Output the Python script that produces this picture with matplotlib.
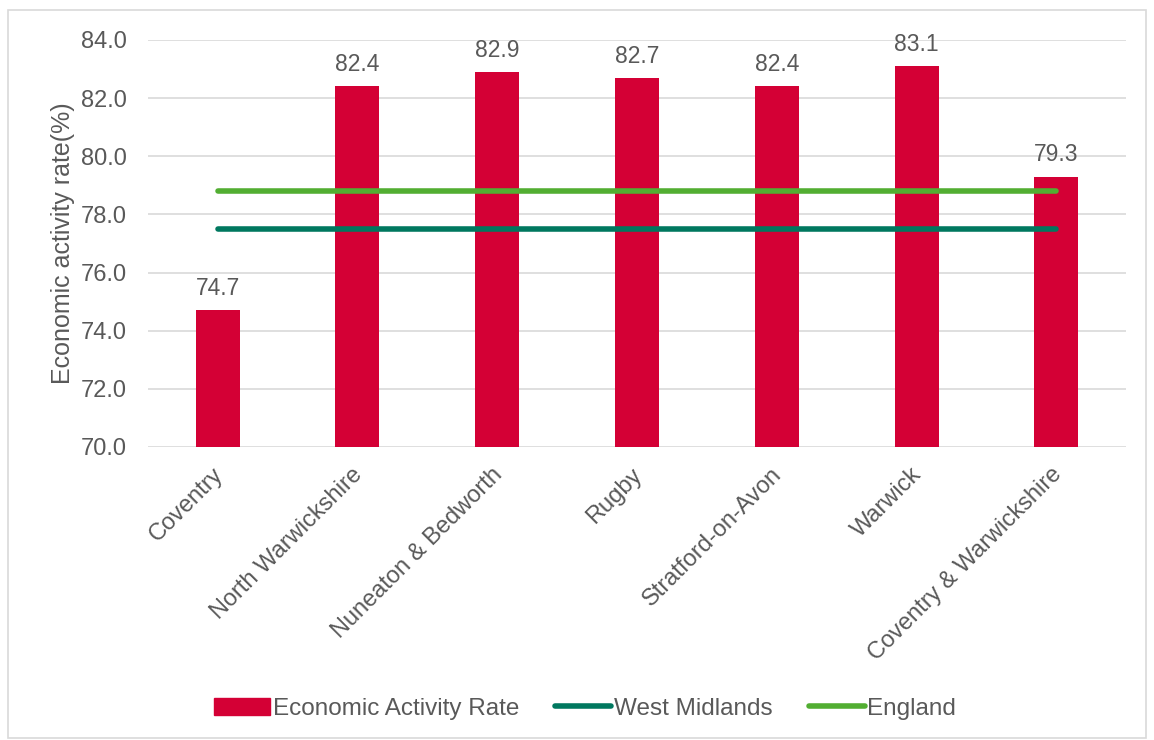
import matplotlib.pyplot as plt
import matplotlib.transforms as mtransforms
from matplotlib.patches import Rectangle
from matplotlib.lines import Line2D
import numpy as np

plt.rcParams['font.family'] = ['Liberation Sans', 'DejaVu Sans']

areas = ['Coventry', 'North Warwickshire', 'Nuneaton & Bedworth', 'Rugby',
         'Stratford-on-Avon', 'Warwick', 'Coventry & Warwickshire']
rates = [74.7, 82.4, 82.9, 82.7, 82.4, 83.1, 79.3]
west_midlands = 77.5
england = 78.8

bar_col = '#D40035'
wm_col = '#00785F'
eng_col = '#52AE32'
txt = '#595959'

fig = plt.figure(figsize=(11.54, 7.4), dpi=100)
ax = fig.add_axes([0.128, 0.396, 0.848, 0.55])

x = np.arange(len(areas))
ax.bar(x, rates, width=0.315, color=bar_col, zorder=2, bottom=0)
ax.plot(x, [west_midlands] * len(x), color=wm_col, lw=4, solid_capstyle='round', zorder=3)
ax.plot(x, [england] * len(x), color=eng_col, lw=4, solid_capstyle='round', zorder=3)

for xi, v in zip(x, rates):
    ax.text(xi, v + 0.35, f'{v:.1f}', ha='center', va='bottom', fontsize=16.5, color=txt)

ax.set_ylim(70, 84)
ax.set_xlim(-0.5, len(areas) - 0.5)
ax.set_yticks(np.arange(70, 84.1, 2))
ax.set_yticklabels([f'{t:.1f}' for t in np.arange(70, 84.1, 2)])
ax.set_xticks(x)
ax.set_xticklabels(areas, rotation=45, ha='right', rotation_mode='anchor')
ax.tick_params(axis='both', length=0, labelsize=17, labelcolor=txt)
ax.tick_params(axis='y', pad=15)
ax.tick_params(axis='x', pad=12)
shift = mtransforms.ScaledTranslation(-0.06, 0, fig.dpi_scale_trans)
for lab in ax.get_xticklabels():
    lab.set_transform(lab.get_transform() + shift)
ax.grid(axis='y', color='#D9D9D9', lw=1.2, zorder=0)
for s in ax.spines.values():
    s.set_visible(False)
ax.set_ylabel('Economic activity rate(%)', fontsize=18, color=txt, labelpad=4)

handles = [Rectangle((0, 0), 1, 1, color=bar_col),
           Line2D([], [], color=wm_col, lw=4, solid_capstyle='round'),
           Line2D([], [], color=eng_col, lw=4, solid_capstyle='round')]
leg = fig.legend(handles, ['Economic Activity Rate', 'West Midlands', 'England'],
                 loc='center', bbox_to_anchor=(0.507, 0.042), ncol=3, frameon=False,
                 fontsize=17.5, labelcolor=txt, handlelength=2.3, handletextpad=0.1,
                 columnspacing=1.5)

fig.patches.append(Rectangle((0.007, 0.003), 0.986, 0.984, transform=fig.transFigure,
                             fill=False, edgecolor='#D9D9D9', lw=1.2))

fig.savefig('out.png', dpi=100)
